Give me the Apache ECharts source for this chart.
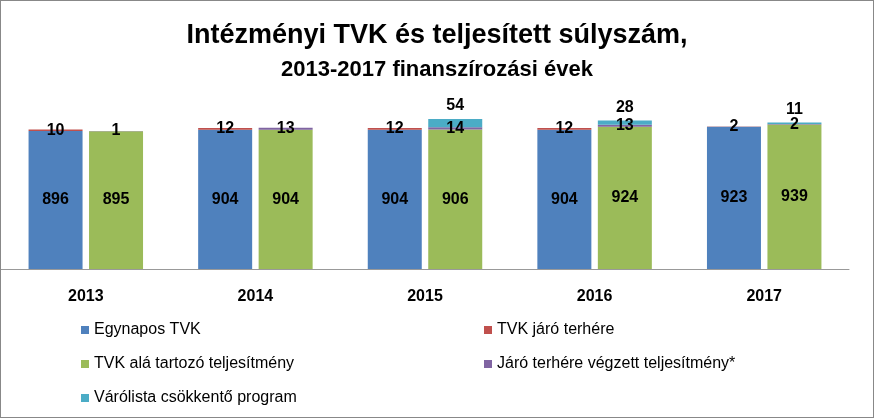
<!DOCTYPE html>
<html lang="hu">
<head>
    <meta charset="UTF-8">
    <title>Intézményi TVK</title>
    <script src="https://cdn.jsdelivr.net/npm/echarts@6/dist/echarts.min.js"></script>
    <style>
        html, body { margin: 0; padding: 0; background: #fff; }
        #main { width: 872px; height: 416px; border: 1px solid #888; }
    </style>
</head>
<body>
<div id="main"></div>
<script>
    var years = ['2013', '2014', '2015', '2016', '2017'];
    var egynapos = [896, 904, 904, 904, 923];
    var tvkJaro = [10, 12, 12, 12, 2];
    var tvkAla = [895, 904, 906, 924, 939];
    var jaroTerhere = [1, 13, 14, 13, 2];
    var varolista = ['-', '-', 54, 28, 11];

    var myChart = echarts.init(document.getElementById('main'));
    var fontFam = 'Liberation Sans, Arial, sans-serif';
    var lbl = { show: true, color: '#000', fontWeight: 'bold', fontSize: 16, fontFamily: fontFam };

    function bar(name, stack, data, color, pos) {
        return {
            name: name, type: 'bar', stack: stack, data: data,
            barWidth: 54, barGap: '12%',
            itemStyle: { color: color },
            label: Object.assign({}, lbl, { position: pos || 'inside' })
        };
    }

    var option = {
        animation: false,
        title: {
            text: 'Intézményi TVK és teljesített súlyszám,',
            subtext: '2013-2017 finanszírozási évek',
            left: 'center', top: 16, itemGap: 10,
            textStyle: { fontSize: 27, fontWeight: 'bold', color: '#000', fontFamily: fontFam },
            subtextStyle: { fontSize: 22, fontWeight: 'bold', color: '#000', fontFamily: fontFam }
        },
        legend: [{
            orient: 'vertical', left: 75, top: 316, itemGap: 18,
            itemWidth: 8, itemHeight: 8, icon: 'rect',
            textStyle: { fontSize: 16, color: '#000', fontFamily: fontFam },
            data: ['Egynapos TVK', 'TVK alá tartozó teljesítmény', 'Várólista csökkentő program']
        }, {
            orient: 'vertical', left: 478, top: 316, itemGap: 18,
            itemWidth: 8, itemHeight: 8, icon: 'rect',
            textStyle: { fontSize: 16, color: '#000', fontFamily: fontFam },
            data: ['TVK járó terhére', 'Járó terhére végzett teljesítmény*']
        }],
        grid: { left: -8, right: 24, top: 114, bottom: 148 },
        xAxis: {
            type: 'category', data: years,
            axisLine: { lineStyle: { color: '#999' } },
            axisTick: { show: false },
            axisLabel: { color: '#000', fontWeight: 'bold', fontSize: 16, margin: 20, fontFamily: fontFam }
        },
        yAxis: { type: 'value', min: 0, max: 1000, show: false },
        series: [
            bar('Egynapos TVK', 'a', egynapos, '#4F81BD'),
            bar('TVK járó terhére', 'a', tvkJaro, '#C0504D'),
            bar('TVK alá tartozó teljesítmény', 'b', tvkAla, '#9BBB59'),
            bar('Járó terhére végzett teljesítmény*', 'b', jaroTerhere, '#8064A2'),
            bar('Várólista csökkentő program', 'b', varolista, '#4BACC6', 'top')
        ]
    };
    myChart.setOption(option);
</script>
</body>
</html>
